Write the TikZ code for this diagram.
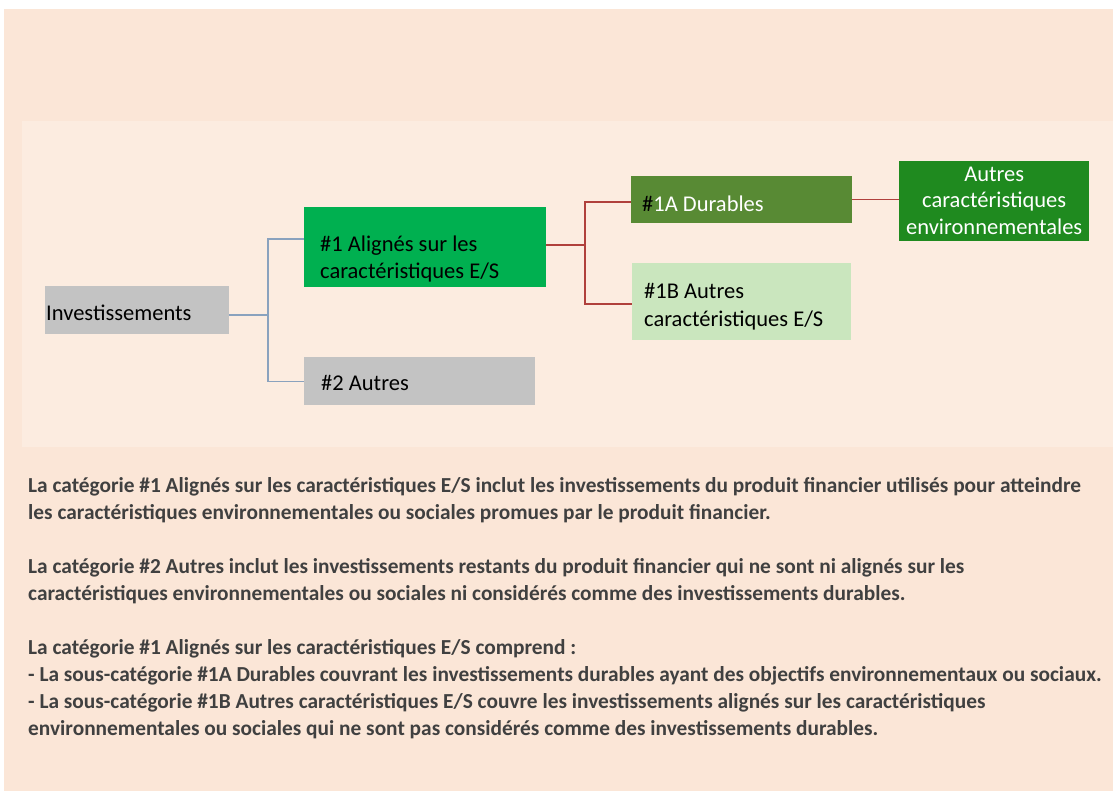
\documentclass[tikz,border=0pt]{standalone}
\usepackage{fontspec}
\setmainfont{Carlito}
\definecolor{peach}{HTML}{FBE6D7}
\definecolor{panel}{HTML}{FCECE0}
\definecolor{boxgray}{HTML}{C3C3C3}
\definecolor{green1}{HTML}{00B050}
\definecolor{green1a}{HTML}{588A34}
\definecolor{greenenv}{HTML}{1F8A1F}
\definecolor{green1b}{HTML}{CAE6BE}
\definecolor{blueline}{HTML}{8AA2BE}
\definecolor{redline}{HTML}{B0403C}
\definecolor{paratext}{HTML}{404040}
% #1 height, #2 width, #3 first baseline from top, #4 text
\newcommand{\boxtxtl}[4]{\parbox[c][#1][t]{#2}{\raggedright\rule{0pt}{#3}#4}}
\newcommand{\boxtxtc}[4]{\parbox[c][#1][t]{#2}{\centering\rule{0pt}{#3}#4}}
\tikzset{
  boxnode/.style={rectangle, inner sep=0pt, anchor=north west},
  boxfont/.style={font=\fontsize{22.5}{#1}\selectfont},
  blueconn/.style={draw=blueline, line width=1.4pt},
  redconn/.style={draw=redline, line width=1.4pt},
  paraline/.style={anchor=base west, inner sep=0pt, text=paratext,
    font=\fontsize{21.35}{27}\selectfont\bfseries},
}
\begin{document}
\begin{tikzpicture}[x=1pt,y=-1pt]
\useasboundingbox (0,0) rectangle (1113,791);
\fill[white] (0,0) rectangle (1113,791);
\fill[peach] (4,9) rectangle (1113,791);
\fill[panel] (22,121) rectangle (1113,447);

% boxes
\node[boxnode, boxfont=27pt, fill=boxgray, inner xsep=1pt] (inv) at (45,286)
  {\boxtxtl{48pt}{182pt}{34pt}{Investissements}};
\node[boxnode, boxfont=27pt, fill=green1, inner xsep=16pt] (a1) at (304,207)
  {\boxtxtl{80pt}{210pt}{44.5pt}{\#1 Alignés sur les\\caractéristiques E/S}};
\node[boxnode, boxfont=27pt, fill=boxgray, inner xsep=17pt] (a2) at (304,357)
  {\boxtxtl{48pt}{197pt}{33pt}{\#2 Autres}};
\node[boxnode, boxfont=27pt, fill=green1a, inner xsep=11pt, text=white] (d1a) at (631,176)
  {\boxtxtl{47pt}{199pt}{35pt}{\textcolor{black}{\#}1A Durables}};
\node[boxnode, boxfont=28pt, fill=green1b, inner xsep=12pt] (d1b) at (632,263)
  {\boxtxtl{77pt}{195pt}{35pt}{\#1B Autres\\caractéristiques E/S}};
\node[boxnode, boxfont=26.5pt, fill=greenenv, inner xsep=2pt, text=white] (env) at (899,161)
  {\boxtxtc{80pt}{186pt}{20pt}{Autres\\caractéristiques\\environnementales}};

% connectors
\coordinate (bt) at (268,0);
\coordinate (rt) at (585,0);
\draw[blueconn] ([yshift=-5pt]inv.east) -- ([yshift=-5pt]inv.east -| bt) |- ([yshift=8pt]a1.west);
\draw[blueconn] ([yshift=-5pt]inv.east -| bt) |- (a2.west);
\draw[redconn] ([yshift=2pt]a1.east) -- ([yshift=2pt]a1.east -| rt) |- ([yshift=-2.5pt]d1a.west);
\draw[redconn] ([yshift=2pt]a1.east -| rt) |- ([yshift=-2.5pt]d1b.west);
\draw[redconn] (d1a.east) -- (d1a.east -| env.west);

% paragraphs
\node[paraline] (p1) at (28,492) {La catégorie \#1 Alignés sur les caractéristiques E/S inclut les investissements du produit financier utilisés pour atteindre};
\node[paraline] (p2) at (28,519) {les caractéristiques environnementales ou sociales promues par le produit financier.};
\node[paraline] (p3) at (28,573) {La catégorie \#2 Autres inclut les investissements restants du produit financier qui ne sont ni alignés sur les};
\node[paraline] (p4) at (28,600) {caractéristiques environnementales ou sociales ni considérés comme des investissements durables.};
\node[paraline] (p5) at (28,654) {La catégorie \#1 Alignés sur les caractéristiques E/S comprend~:};
\node[paraline] (p6) at (28,681) {- La sous-catégorie \#1A Durables couvrant les investissements durables ayant des objectifs environnementaux ou sociaux.};
\node[paraline] (p7) at (28,708) {- La sous-catégorie \#1B Autres caractéristiques E/S couvre les investissements alignés sur les caractéristiques};
\node[paraline] (p8) at (28,735) {environnementales ou sociales qui ne sont pas considérés comme des investissements durables.};
\end{tikzpicture}
\end{document}
